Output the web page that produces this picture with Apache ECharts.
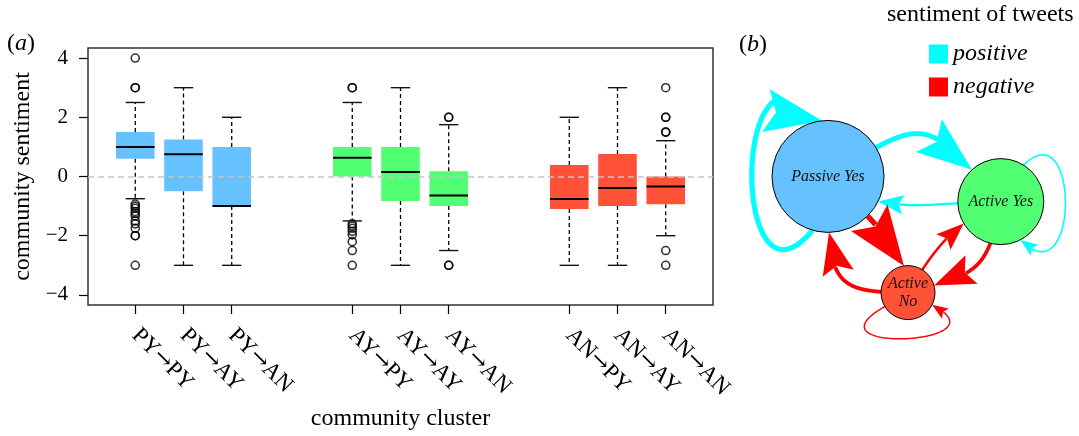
<!DOCTYPE html>
<html><head><meta charset="utf-8">
<script src="https://cdn.jsdelivr.net/npm/echarts@6/dist/echarts.min.js"></script>
<style>html,body{margin:0;padding:0;background:#fff}#c{width:1079px;height:436px}</style>
</head><body><div id="c"></div>
<script>
// ================= DATA =================
// (a) box plots of community sentiment per community-cluster transition
const categories = ['PY→PY','PY→AY','PY→AN','AY→PY','AY→AY','AY→AN','AN→PY','AN→AY','AN→AN'];
const positions  = [1, 2, 3, 5.5, 6.5, 7.5, 10, 11, 12];
const whiskerLow  = [-0.75, -3, -3, -1.5, -3, -2.5, -3, -3, -2];
const quartile1   = [0.6, -0.5, -1, 0, -0.83, -1, -1.1, -1, -0.94];
const medians     = [1, 0.75, -1, 0.63, 0.15, -0.64, -0.76, -0.39, -0.34];
const quartile3   = [1.5, 1.25, 1, 1, 1, 0.18, 0.39, 0.76, 0];
const whiskerHigh = [2.5, 3, 2, 2.5, 3, 1.75, 2, 3, 1.21];
const outliers = [
  [4, 3, 3, -0.93, -1, -1.07, -1.18, -1.25, -1.33, -1.5, -1.6, -1.75, -2, -2, -3],
  [], [],
  [3, 3, -1.6, -1.67, -1.75, -1.85, -1.97, -2.2, -2.5, -3],
  [],
  [2, 2, -3, -3],
  [], [],
  [3, 2, 2, 1.5, 1.5, -2.5, -3]
];
const yTicks = [-4, -2, 0, 2, 4];

// (b) network of communities (layout coordinates) and sentiment flows
const nodeNames = ['Passive Yes', 'Active Yes', 'Active\nNo'];
const nodeX = [-0.5, 0.58, 0.0];
const nodeY = [0.24, 0.06, -0.59];
const edgeFrom      = [0, 0, 1, 1, 0, 2, 2, 1, 2];
const edgeTo        = [0, 1, 0, 1, 2, 0, 1, 2, 2];
const edgeSentiment = ['positive','positive','positive','positive','negative','negative','negative','negative','negative'];
const edgeWeight    = [5.2, 5, 2.3, 1.6, 5.4, 3.8, 2.5, 3.7, 1.45];
const sentiments = ['positive', 'negative'];

// ================= STYLE =================
const FONT = '"Liberation Serif", "Times New Roman", serif';
const BOX_COLOR = {PY: '#66C2FF', AY: '#52FF73', AN: '#FF5236'};
const NODE_COLOR = ['#66C2FF', '#52FF73', '#FF5236'];
const NODE_RADIUS = [56, 43, 27];
const SENT_COLOR = {positive: '#00FFFF', negative: '#FF0000'};
// edge shape: exit/entry bend angles (deg) and control-handle lengths (fraction of chord)
const EDGE_SHAPE = {
  1: {th0: 40, th1: 40, k0: 0.66, k1: 0.66},
  2: {th0: 8, th1: 32, k0: 0.38, k1: 0.38},
  4: {th0: 9, th1: 44.6, k0: 0.28, k1: 0.28},
  5: {th0: 55.4, th1: 34.6, k0: 0.55, k1: 0.75},
  6: {th0: 14.6, th1: 19.7, k0: 0.4, k1: 0.4},
  7: {th0: 35, th1: 29.4, k0: 0.55, k1: 0.55}
};
// self-loop shape: start/end angles on the node, control points in node radii
const LOOP_SHAPE = {
  0: {a0: 106, a1: 264, c1: [-1.75, 2.73], c2: [-1.75, -2.98]},
  3: {a0: -58, a1: 63, c1: [1.84, -2.14], c2: [1.84, 2.28]},
  8: {a0: 149, a1: 27, c1: [-4, 2.3], c2: [3.78, 1.93]}
};
const ARROW_RATIO = 11, ARROW_WIDTH = 0.76;
const BOX_HALF = 0.4, CAP_HALF = 0.2;

// ================= RENDERERS =================
function renderBox(params, api) {
  const pos = api.value(0), lo = api.value(1), q1 = api.value(2), md = api.value(3),
        q3 = api.value(4), hi = api.value(5), gi = api.value(6);
  const color = BOX_COLOR[categories[gi].slice(0, 2)];
  const tl = api.coord([pos - BOX_HALF, q3]), br = api.coord([pos + BOX_HALF, q1]);
  const mL = api.coord([pos - BOX_HALF, md]), mR = api.coord([pos + BOX_HALF, md]);
  const cHi = api.coord([pos, hi]), cQ3 = api.coord([pos, q3]), cQ1 = api.coord([pos, q1]), cLo = api.coord([pos, lo]);
  const capHL = api.coord([pos - CAP_HALF, hi]), capHR = api.coord([pos + CAP_HALF, hi]);
  const capLL = api.coord([pos - CAP_HALF, lo]), capLR = api.coord([pos + CAP_HALF, lo]);
  const dash = {stroke: '#000', lineWidth: 1.3, lineDash: [4, 3]};
  const solid = {stroke: '#111', lineWidth: 1.4};
  return {type: 'group', children: [
    {type: 'line', shape: {x1: cQ3[0], y1: cQ3[1], x2: cHi[0], y2: cHi[1]}, style: dash},
    {type: 'line', shape: {x1: cQ1[0], y1: cQ1[1], x2: cLo[0], y2: cLo[1]}, style: dash},
    {type: 'line', shape: {x1: capHL[0], y1: capHL[1], x2: capHR[0], y2: capHR[1]}, style: solid},
    {type: 'line', shape: {x1: capLL[0], y1: capLL[1], x2: capLR[0], y2: capLR[1]}, style: solid},
    {type: 'rect', shape: {x: tl[0], y: tl[1], width: br[0] - tl[0], height: Math.max(br[1] - tl[1], 0.01)}, style: {fill: color, stroke: null}},
    {type: 'line', shape: {x1: mL[0], y1: mL[1], x2: mR[0], y2: mR[1]}, style: {stroke: '#000', lineWidth: 2}}
  ]};
}

function unit(a) { const r = a * Math.PI / 180; return [Math.cos(r), Math.sin(r)]; }
function dist(p, q) { return Math.hypot(p[0] - q[0], p[1] - q[1]); }
function cubic(P0, P1, P2, P3) {
  return function (u) {
    const a = (1 - u) * (1 - u) * (1 - u), b = 3 * u * (1 - u) * (1 - u), c = 3 * u * u * (1 - u), d = u * u * u;
    return [a * P0[0] + b * P1[0] + c * P2[0] + d * P3[0], a * P0[1] + b * P1[1] + c * P2[1] + d * P3[1]];
  };
}

function renderEdge(params, api) {
  const k = api.value(0);
  const s = edgeFrom[k], t = edgeTo[k], w = edgeWeight[k];
  const color = SENT_COLOR[edgeSentiment[k]];
  const S = api.coord([nodeX[s], nodeY[s]]);
  const T = api.coord([nodeX[t], nodeY[t]]);
  const rS = NODE_RADIUS[s], rT = NODE_RADIUS[t];
  let curve, t0, t1, searchLo;
  if (s === t) {
    const L = LOOP_SHAPE[k];
    const u0 = unit(L.a0), u1 = unit(L.a1);
    const P0 = [S[0] + rS * u0[0], S[1] + rS * u0[1]];
    const P3 = [S[0] + rS * u1[0], S[1] + rS * u1[1]];
    const P1 = [S[0] + rS * L.c1[0], S[1] + rS * L.c1[1]];
    const P2 = [S[0] + rS * L.c2[0], S[1] + rS * L.c2[1]];
    curve = cubic(P0, P1, P2, P3);
    t0 = 0; t1 = 1; searchLo = 0.4;
  } else {
    const E = EDGE_SHAPE[k];
    const len = dist(S, T);
    const chord = Math.atan2(T[1] - S[1], T[0] - S[0]) * 180 / Math.PI;
    const v0 = unit(chord - E.th0), v1 = unit(chord + 180 + E.th1);
    const P1 = [S[0] + E.k0 * len * v0[0], S[1] + E.k0 * len * v0[1]];
    const P2 = [T[0] + E.k1 * len * v1[0], T[1] + E.k1 * len * v1[1]];
    curve = cubic(S, P1, P2, T);
    let lo = 0, hi = 0.5;
    for (let i = 0; i < 40; i++) { const m = (lo + hi) / 2; if (dist(curve(m), S) < rS) lo = m; else hi = m; }
    t0 = (lo + hi) / 2;
    lo = 0.5; hi = 1;
    for (let i = 0; i < 40; i++) { const m = (lo + hi) / 2; if (dist(curve(m), T) > rT) lo = m; else hi = m; }
    t1 = (lo + hi) / 2;
    searchLo = t0;
  }
  const tip = curve(t1);
  const La = w * ARROW_RATIO, Wa = La * ARROW_WIDTH;
  function atDist(D) {
    let lo = searchLo, hi = t1;
    for (let i = 0; i < 40; i++) { const m = (lo + hi) / 2; if (dist(curve(m), tip) > D) lo = m; else hi = m; }
    return (lo + hi) / 2;
  }
  const base = curve(atDist(La));
  let d = [tip[0] - base[0], tip[1] - base[1]];
  const dl = Math.hypot(d[0], d[1]) || 1; d = [d[0] / dl, d[1] / dl];
  const n = [-d[1], d[0]];
  const B = [tip[0] - d[0] * La, tip[1] - d[1] * La];
  const arrow = [tip, [B[0] + n[0] * Wa / 2, B[1] + n[1] * Wa / 2],
                 [tip[0] - d[0] * La * 0.82, tip[1] - d[1] * La * 0.82],
                 [B[0] - n[0] * Wa / 2, B[1] - n[1] * Wa / 2]];
  const tn = atDist(La * 0.84);
  const pts = [];
  const N = 80;
  for (let i = 0; i <= N; i++) pts.push(curve(t0 + (tn - t0) * i / N));
  return {type: 'group', children: [
    {type: 'polyline', shape: {points: pts}, style: {stroke: color, lineWidth: w, fill: null, lineCap: 'butt', lineJoin: 'round'}},
    {type: 'polygon', shape: {points: arrow}, style: {fill: color, stroke: null}}
  ]};
}

function renderNode(params, api) {
  const i = params.dataIndex;
  const p = api.coord([api.value(0), api.value(1)]);
  return {type: 'group', children: [
    {type: 'circle', shape: {cx: p[0], cy: p[1], r: NODE_RADIUS[i]}, style: {fill: NODE_COLOR[i], stroke: '#000', lineWidth: 1}},
    {type: 'text', x: p[0], y: p[1], style: {text: nodeNames[i], fill: '#111', font: 'italic 16px ' + FONT,
      align: 'center', verticalAlign: 'middle', textAlign: 'center', textVerticalAlign: 'middle', lineHeight: 18}}
  ]};
}

// ================= OPTION =================
const boxData = categories.map((c, i) => [positions[i], whiskerLow[i], quartile1[i], medians[i], quartile3[i], whiskerHigh[i], i]);
const outlierData = [];
outliers.forEach((arr, i) => arr.forEach(v => outlierData.push([positions[i], v])));
const fmtY = v => (v < 0 ? '\u2212' + (-v) : String(v));
const fmtX = v => {
  const parts = categories[positions.indexOf(v)].split('→');
  return '{t|' + parts[0] + '}{r|→}{t|' + parts[1] + '}';
};

const edgeSeries = sentiments.map(sn => ({
  type: 'custom', name: sn, coordinateSystem: 'cartesian2d', xAxisIndex: 1, yAxisIndex: 1,
  itemStyle: {color: SENT_COLOR[sn]}, silent: true, clip: false, z: 2,
  data: edgeFrom.map((f, k) => k).filter(k => edgeSentiment[k] === sn).map(k => [k]),
  renderItem: renderEdge
}));

const titleStyle = {fontFamily: FONT, fontSize: 24, fontWeight: 'normal', color: '#000',
  rich: {i: {fontStyle: 'italic', fontFamily: FONT, fontSize: 24, color: '#000'}}};

const option = {
  animation: false,
  backgroundColor: '#fff',
  textStyle: {fontFamily: FONT},
  title: [
    {text: '({i|a})', left: 7, top: 32, padding: 0, textStyle: titleStyle},
    {text: '({i|b})', left: 739, top: 33, padding: 0, textStyle: titleStyle},
    {text: 'sentiment of tweets', left: 887, top: 3, padding: 0, textStyle: titleStyle}
  ],
  legend: {
    data: sentiments, orient: 'vertical', left: 929, top: 42, padding: 0, itemGap: 9,
    itemWidth: 19, itemHeight: 19, icon: 'rect', selectedMode: false,
    textStyle: {fontFamily: FONT, fontSize: 24, fontStyle: 'italic', color: '#000'}
  },
  grid: [
    {left: 88, top: 48, width: 625, height: 257, show: true, borderColor: '#333', borderWidth: 1.5,
     backgroundColor: 'rgba(0,0,0,0)', containLabel: false, outerBoundsMode: 'none'},
    {left: 748, top: 70, width: 320, height: 280, show: false, containLabel: false, outerBoundsMode: 'none'}
  ],
  xAxis: [
    {gridIndex: 0, type: 'value', min: 0.02, max: 12.98,
     axisLine: {show: false, onZero: false}, splitLine: {show: false},
     axisTick: {show: true, customValues: positions, length: 9, lineStyle: {color: '#000', width: 1.2}},
     axisLabel: {customValues: positions, rotate: -45, margin: 27, fontSize: 23, color: '#000', fontFamily: FONT,
       formatter: fmtX,
       rich: {t: {fontFamily: FONT, fontSize: 23, color: '#000'},
              r: {fontFamily: '"DejaVu Serif", serif', fontSize: 22, color: '#000'}}},
     name: 'community cluster', nameLocation: 'middle', nameGap: 102,
     nameTextStyle: {fontSize: 24, color: '#000', fontFamily: FONT}},
    {gridIndex: 1, type: 'value', min: -1, max: 1, show: false}
  ],
  yAxis: [
    {gridIndex: 0, type: 'value', min: -4.34, max: 4.34,
     axisLine: {show: false, onZero: false}, splitLine: {show: false},
     axisTick: {show: true, customValues: yTicks, length: 9, lineStyle: {color: '#000', width: 1.2}},
     axisLabel: {customValues: yTicks, margin: 20, fontSize: 21, color: '#000', fontFamily: FONT, formatter: fmtY},
     name: 'community sentiment', nameLocation: 'middle', nameGap: 45,
     nameTextStyle: {fontSize: 24, color: '#000', fontFamily: FONT}},
    {gridIndex: 1, type: 'value', min: -1, max: 1, show: false}
  ],
  series: [
    {type: 'custom', name: 'boxes', xAxisIndex: 0, yAxisIndex: 0, data: boxData, renderItem: renderBox, silent: true, z: 2},
    {type: 'scatter', name: 'outliers', xAxisIndex: 0, yAxisIndex: 0, data: outlierData, symbol: 'circle', symbolSize: 8,
     itemStyle: {color: 'rgba(0,0,0,0)', borderColor: '#000', borderWidth: 1.6}, silent: true, z: 4,
     markLine: {silent: true, symbol: ['none', 'none'], label: {show: false},
       lineStyle: {color: '#c4c4c4', type: [6, 4], width: 1.5}, data: [{yAxis: 0}]}},
    ...edgeSeries,
    {type: 'custom', name: 'nodes', coordinateSystem: 'cartesian2d', xAxisIndex: 1, yAxisIndex: 1,
     data: nodeX.map((x, i) => [x, nodeY[i]]), renderItem: renderNode, silent: true, clip: false, z: 5}
  ]
};

const chart = echarts.init(document.getElementById('c'), null, {renderer: 'canvas'});
chart.setOption(option);
</script></body></html>
